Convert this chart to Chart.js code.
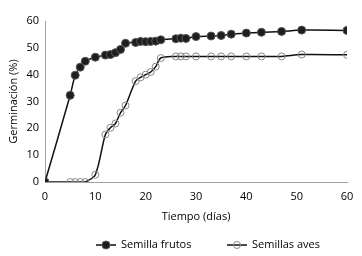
<!DOCTYPE html>
<html><head><meta charset="utf-8">
<script src="https://cdn.jsdelivr.net/npm/chart.js@4"></script>
<style>html,body{margin:0;padding:0;background:#fff;}#wrap{width:362px;height:256px;position:relative}</style>
</head><body><div id="wrap"><canvas id="c" width="362" height="256"></canvas></div>
<script>
const days   = [0,5,6,7,8,10,12,13,14,15,16,18,19,20,21,22,23,26,27,28,30,33,35,37,40,43,47,51,60];
const frutos = [0,32.3,39.8,42.8,45,46.5,47.3,47.5,48.2,49.4,51.7,52.0,52.4,52.3,52.4,52.5,53.0,53.4,53.6,53.5,54.2,54.4,54.6,55.1,55.5,55.8,56.1,56.6,56.5];
const aves   = [0,0,0,0,0,2.7,17.7,20.2,21.8,25.8,28.5,37.6,39,40,41,43,46.2,46.8,46.8,46.8,46.8,46.8,46.8,46.8,46.8,46.8,46.8,47.5,47.4];
const seriesNames = ['Semilla frutos','Semillas aves'];
const xTitle = 'Tiempo (días)';
const yTitle = 'Germinación (%)';
const xTickValues = [0,10,20,30,40,50,60];
const yTickValues = [0,10,20,30,40,50,60];

const FONT = "'Open Sans', sans-serif";
const TXT = '#000';

const legendPlugin = {
  id: 'lineLegend',
  afterDraw(chart) {
    const ctx = chart.ctx;
    ctx.save();
    ctx.font = "11px " + FONT;
    ctx.textBaseline = 'middle';
    ctx.fillStyle = TXT;
    const y = 245;
    const xs = [96, 227];
    chart.data.datasets.forEach((ds, i) => {
      const x = xs[i];
      ctx.strokeStyle = ds.borderColor;
      ctx.lineWidth = 1.5;
      ctx.beginPath(); ctx.moveTo(x, y); ctx.lineTo(x + 20, y); ctx.stroke();
      ctx.beginPath();
      ctx.arc(x + 10, y, ds.pointRadius, 0, Math.PI * 2);
      if (ds.pointBackgroundColor !== 'rgba(0,0,0,0)') { ctx.fillStyle = ds.pointBackgroundColor; ctx.fill(); }
      ctx.strokeStyle = ds.pointBorderColor; ctx.lineWidth = ds.pointBorderWidth; ctx.stroke();
      ctx.fillStyle = TXT;
      ctx.fillText(ds.label, x + 25, y);
    });
    ctx.restore();
  }
};

new Chart(document.getElementById('c'), {
  type: 'line',
  data: {
    datasets: [
      {
        label: seriesNames[0],
        data: days.map((d, i) => ({x: d, y: frutos[i]})),
        borderColor: '#111', borderWidth: 1.5, tension: 0.3,
        pointRadius: 4, pointBackgroundColor: '#1e1e1e', pointBorderColor: '#555', pointBorderWidth: 1
      },
      {
        label: seriesNames[1],
        data: days.map((d, i) => ({x: d, y: aves[i]})),
        borderColor: '#111', borderWidth: 1.5, tension: 0.3,
        pointRadius: 3.5, pointBackgroundColor: 'rgba(0,0,0,0)', pointBorderColor: '#888', pointBorderWidth: 1
      }
    ]
  },
  options: {
    responsive: false, animation: false,
    layout: { padding: { left: 0, right: 15, top: 21, bottom: 30 } },
    plugins: { legend: { display: false }, tooltip: { enabled: false } },
    scales: {
      x: {
        type: 'linear', min: 0, max: 60,
        afterBuildTicks: s => { s.ticks = xTickValues.map(v => ({value: v})); },
        afterFit: s => { s.height = 44; },
        grid: { display: false, drawTicks: false },
        border: { display: true, color: '#a0a0a0', dash: [1, 1], width: 1 },
        ticks: { font: { family: FONT, size: 11 }, color: TXT, padding: 8, maxRotation: 0 },
        title: { display: true, text: xTitle, font: { family: FONT, size: 11 }, color: TXT, padding: { top: 0, bottom: 3 } }
      },
      y: {
        min: 0, max: 60,
        afterBuildTicks: s => { s.ticks = yTickValues.map(v => ({value: v})); },
        afterFit: s => { s.width = 45; },
        grid: { display: false, drawTicks: false },
        border: { display: true, color: '#a0a0a0', dash: [1, 1], width: 1 },
        ticks: { font: { family: FONT, size: 11 }, color: TXT, padding: 6 },
        title: { display: true, text: yTitle, font: { family: FONT, size: 11 }, color: TXT, padding: { top: 7, bottom: 0 } }
      }
    }
  },
  plugins: [legendPlugin]
});
</script>
</body></html>
